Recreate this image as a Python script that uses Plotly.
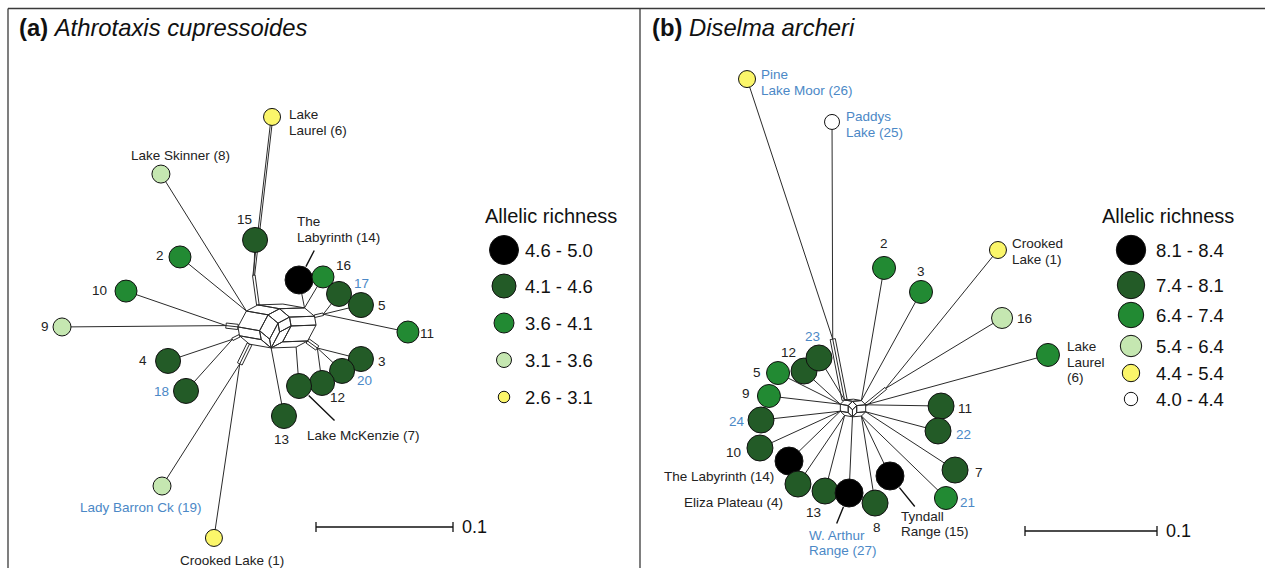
import numpy as np
import plotly.graph_objects as go

FIG_W, FIG_H = 1265, 568
FONT = "Liberation Sans, Arial, Helvetica, sans-serif"
INK = "#222222"
BLUE = "#4b88c6"
LINE = "#2a2a2a"

# ---------------- (a) Athrotaxis cupressoides ----------------
# split-network tip coordinates (genetic distance units, network centre at 0,0)
a_sites = ["Lake Laurel (6)", "Lake Skinner (8)", "15", "2", "10", "9", "4", "18",
           "Lady Barron Ck (19)", "Crooked Lake (1)", "13", "3", "20", "12",
           "Lake McKenzie (7)", "11", "The Labyrinth (14)", "16", "17", "5"]
a_x = [-0.0080, -0.0891, -0.0204, -0.0752, -0.1146, -0.1613, -0.0839, -0.0708,
       -0.0883, -0.0504, 0.0007, 0.0569, 0.0431, 0.0285,
       0.0117, 0.0912, 0.0117, 0.0292, 0.0409, 0.0569]
a_y = [0.1526, 0.1109, 0.0628, 0.0504, 0.0255, -0.0007, -0.0255, -0.0474,
       -0.1168, -0.1547, -0.0657, -0.0241, -0.0328, -0.0416,
       -0.0438, -0.0044, 0.0336, 0.0358, 0.0234, 0.0153]
a_richness = ["2.6 - 3.1", "3.1 - 3.6", "4.1 - 4.6", "3.6 - 4.1", "3.6 - 4.1", "3.1 - 3.6",
              "4.1 - 4.6", "4.1 - 4.6", "3.1 - 3.6", "2.6 - 3.1", "4.1 - 4.6", "4.1 - 4.6",
              "4.1 - 4.6", "4.1 - 4.6", "4.1 - 4.6", "3.6 - 4.1", "4.6 - 5.0", "3.6 - 4.1",
              "4.1 - 4.6", "4.1 - 4.6"]
a_bins = ["4.6 - 5.0", "4.1 - 4.6", "3.6 - 4.1", "3.1 - 3.6", "2.6 - 3.1"]
a_blue_sites = {"17", "18", "20", "Lady Barron Ck (19)"}

# ---------------- (b) Diselma archeri ----------------
b_sites = ["Pine Lake Moor (26)", "Paddys Lake (25)", "2", "3", "Crooked Lake (1)", "16",
           "Lake Laurel (6)", "11", "22", "7", "21", "Tyndall Range (15)", "13",
           "W. Arthur Range (27)", "8", "10", "The Labyrinth (14)", "Eliza Plateau (4)",
           "24", "9", "5", "12", "23"]
b_x = [-0.0818, -0.0174, 0.0220, 0.0500, 0.1083, 0.1114, 0.1462, 0.0652, 0.0629, 0.0758,
       0.0689, 0.0265, -0.0227, -0.0045, 0.0152, -0.0720, -0.0500, -0.0432, -0.0712,
       -0.0652, -0.0583, -0.0386, -0.0273]
b_y = [0.2492, 0.2167, 0.1061, 0.0879, 0.1197, 0.0682, 0.0402, 0.0015, -0.0174, -0.0470,
       -0.0682, -0.0515, -0.0629, -0.0644, -0.0720, -0.0303, -0.0402, -0.0576, -0.0091,
       0.0091, 0.0265, 0.0280, 0.0379]
b_richness = ["4.4 - 5.4", "4.0 - 4.4", "6.4 - 7.4", "6.4 - 7.4", "4.4 - 5.4", "5.4 - 6.4",
              "6.4 - 7.4", "7.4 - 8.1", "7.4 - 8.1", "7.4 - 8.1", "6.4 - 7.4", "8.1 - 8.4",
              "7.4 - 8.1", "8.1 - 8.4", "7.4 - 8.1", "7.4 - 8.1", "8.1 - 8.4", "7.4 - 8.1",
              "7.4 - 8.1", "6.4 - 7.4", "6.4 - 7.4", "7.4 - 8.1", "7.4 - 8.1"]
b_bins = ["8.1 - 8.4", "7.4 - 8.1", "6.4 - 7.4", "5.4 - 6.4", "4.4 - 5.4", "4.0 - 4.4"]
b_blue_sites = {"Pine Lake Moor (26)", "Paddys Lake (25)", "23", "24", "22", "21",
                "W. Arthur Range (27)"}

SCALE_BAR_LENGTH = 0.1

# ---------------- styling ----------------
BIN_FILL = ["#000000", "#235b27", "#228a33", "#c5e7b1", "#fbf66a", "#ffffff"]

PANELS = {
    "a": dict(xref="x", yref="y", px0=0, px1=640, cx=283, cy=326, ppu=1370,
              web_at=(277, 326),
              # short splits forming the central web: (direction deg, length px)
              web=[(2, 25), (28, 13), (62, 18), (100, 9), (140, 13), (170, 22)],
              node_d=[28, 25, 22, 18, 17],
              legend=dict(title_x=551, title_y=216, mx=504, tx=523,
                          rows=[250, 286, 323, 360, 397], d=[29, 24, 20, 15, 11.5]),
              title=(17, 27, "<b>(a)</b> <i>Athrotaxis cupressoides</i>"),
              bar=(316, 527)),
    "b": dict(xref="x2", yref="y2", px0=640, px1=1265, cx=855, cy=408, ppu=1320,
              web_at=(853, 408),
              web=[(5, 9), (45, 6), (90, 7), (135, 6), (170, 8)],
              node_d=[28, 26, 23, 21, 17, 15],
              legend=dict(title_x=1168, title_y=216, mx=1131, tx=1154,
                          rows=[250, 285, 315, 346, 373, 399],
                          d=[29.4, 27.4, 25.4, 21.4, 17.4, 13.4]),
              title=(650, 27, "<b>(b)</b> <i>Diselma archeri</i>"),
              bar=(1025, 531)),
}

# long splits drawn as bands of parallel edges (tips, band length px, number of lines)
a_bands = [(("Lady Barron Ck (19)", "Crooked Lake (1)"), 22, 3),
           (("Lake Laurel (6)", "15"), 30, 2),
           (("4", "18"), 8, 2),
           (("10", "9"), 12, 3),
           (("3", "20", "12"), 12, 3),
           (("5", "17", "11"), 9, 2)]
b_bands = [(("Pine Lake Moor (26)", "Paddys Lake (25)"), 62, 3),
           (("Crooked Lake (1)", "16"), 26, 2)]
a_double = {"Lake Laurel (6)"}
b_double = set()
BAND_GAP = 2.6      # px between parallel edges of a band
DOUBLE_GAP = 1.7    # px between the two edges of a doubled pendant edge

# label placement relative to the node centre, px: (anchor, dx, [dy per line])
a_labels = {
    "Crooked Lake (1)": ("c", 18, [23]), "2": ("c", -20, [-1]), "3": ("c", 21, [2]),
    "4": ("c", -25, [0]), "5": ("c", 21, [0]), "Lake Laurel (6)": ("l", 15, [-2, 14]),
    "Lake McKenzie (7)": ("l", 6, [49]), "Lake Skinner (8)": ("c", 20, [-19]),
    "9": ("c", -17, [0]), "10": ("c", -27, [-1]), "11": ("c", 19, [1]), "12": ("c", 15, [15]),
    "13": ("c", -2, [23]), "The Labyrinth (14)": ("l", -4, [-58, -42]),
    "15": ("c", -11, [-20]), "16": ("c", 20, [-11]), "17": ("c", 22, [-10]),
    "18": ("c", -25, [1]), "Lady Barron Ck (19)": ("c", -21, [21]), "20": ("c", 22, [10]),
}
a_lines = {"Lake Laurel (6)": ["Lake", "Laurel (6)"],
           "The Labyrinth (14)": ["The", "Labyrinth (14)"]}
a_leaders = {"The Labyrinth (14)": (16, -31), "Lake McKenzie (7)": (37, 36)}

b_labels = {
    "Pine Lake Moor (26)": ("l", 12, [-5, 11]), "Paddys Lake (25)": ("l", 12, [-5, 11]),
    "2": ("c", 0, [-24]), "3": ("c", 0, [-20]), "Crooked Lake (1)": ("l", 12, [-7, 9]),
    "16": ("c", 22, [1]), "Lake Laurel (6)": ("l", 17, [-8, 7.5, 23]), "11": ("c", 24, [2]),
    "22": ("c", 25, [4]), "7": ("c", 24, [2]), "21": ("c", 22, [4]),
    "Tyndall Range (15)": ("l", 9, [41, 56]), "8": ("c", 2, [24]), "13": ("c", -12, [21]),
    "W. Arthur Range (27)": ("l", -42, [42, 57]), "10": ("c", -26, [4]),
    "The Labyrinth (14)": ("r", -13, [15]), "Eliza Plateau (4)": ("r", -13, [18]),
    "24": ("c", -24, [1]), "9": ("c", -23, [-2]), "5": ("c", -21, [-1]),
    "12": ("c", -16, [-19]), "23": ("c", -6, [-21]),
}
b_lines = {"Pine Lake Moor (26)": ["Pine", "Lake Moor (26)"],
           "Paddys Lake (25)": ["Paddys", "Lake (25)"],
           "Crooked Lake (1)": ["Crooked", "Lake (1)"],
           "Lake Laurel (6)": ["Lake", "Laurel", "(6)"],
           "Tyndall Range (15)": ["Tyndall", "Range (15)"],
           "W. Arthur Range (27)": ["W. Arthur", "Range (27)"]}
b_leaders = {"Tyndall Range (15)": (26, 32), "W. Arthur Range (27)": (-13, 32)}

LABEL_SIZE = 13.5


def zonotope(vecs):
    """Rhombic tiling of the zonotope spanned by vectors sorted by angle."""
    m = len(vecs)
    order = list(range(m))
    target = list(reversed(range(m)))
    tiles = []
    while order != target:
        for p in range(m - 1):
            a, b = order[p], order[p + 1]
            if a < b:
                base = np.sum([vecs[k] for k in order[:p]], axis=0) if p else np.zeros(2)
                tiles.append((base, vecs[a], vecs[b]))
                order[p], order[p + 1] = b, a
    boundary = [np.zeros(2)]
    for k in range(m):
        boundary.append(boundary[-1] + vecs[k])
    back = [np.zeros(2)]
    for k in reversed(range(m)):
        back.append(back[-1] + vecs[k])
    return tiles, boundary + back[1:-1]


def network_lines(xs, ys, sites, geo, bands, doubles):
    """Central split web, bands for long splits and pendant edges to every site."""
    ppu = geo["ppu"]
    vecs = [np.array([np.cos(np.radians(a)), np.sin(np.radians(a))]) * L / ppu
            for a, L in geo["web"]]
    tiles, verts = zonotope(vecs)
    centre = np.array([(geo["web_at"][0] - geo["cx"]) / ppu,
                       -(geo["web_at"][1] - geo["cy"]) / ppu])
    shift = centre - np.sum(vecs, axis=0) / 2
    lx, ly = [], []

    def seg(p, q):
        lx.extend([p[0], q[0], None])
        ly.extend([p[1], q[1], None])

    for base, va, vb in tiles:
        p = base + shift
        seg(p, p + va)
        seg(p + va, p + va + vb)
        seg(p + va + vb, p + vb)
        seg(p + vb, p)
    verts = [v + shift for v in verts]

    tips = [np.array([x, y]) for x, y in zip(xs, ys)]
    start = {i: min(verts, key=lambda v: np.linalg.norm(v - tips[i])) for i in range(len(tips))}
    sp = BAND_GAP / ppu
    for group, length, n in bands:
        idx = [sites.index(g) for g in group]
        v = np.mean([(tips[i] - centre) / np.linalg.norm(tips[i] - centre) for i in idx], axis=0)
        v = v / np.linalg.norm(v)
        base = max(verts, key=lambda w: np.dot(w - centre, v))
        end = base + length / ppu * v
        perp = np.array([-v[1], v[0]])
        offs = [(m - (n - 1) / 2) * sp for m in range(n)]
        for o in offs:
            seg(base + o * perp, end + o * perp)
        seg(base + offs[0] * perp, base + offs[-1] * perp)
        seg(end + offs[0] * perp, end + offs[-1] * perp)
        for i in idx:
            start[i] = end

    half = DOUBLE_GAP / 2 / ppu
    for i, q in enumerate(tips):
        p = np.asarray(start[i])
        if sites[i] in doubles:
            d = (q - p) / np.linalg.norm(q - p)
            perp = np.array([-d[1], d[0]])
            for o in (-half, half):
                seg(p + o * perp, q + o * perp)
        else:
            seg(p, q)
    return lx, ly


fig = go.Figure()

panel_data = {
    "a": (a_sites, a_x, a_y, a_richness, a_bins, a_blue_sites, a_bands, a_double,
          a_labels, a_lines, a_leaders),
    "b": (b_sites, b_x, b_y, b_richness, b_bins, b_blue_sites, b_bands, b_double,
          b_labels, b_lines, b_leaders),
}

annotations = []
for key, (sites, xs, ys, rich, bins, blue, bands, doubles, labels, lines,
          leaders) in panel_data.items():
    geo = PANELS[key]
    xr, yr = geo["xref"], geo["yref"]
    ppu = geo["ppu"]

    # edges and web
    lx, ly = network_lines(xs, ys, sites, geo, bands, doubles)
    fig.add_trace(go.Scatter(x=lx, y=ly, mode="lines", xaxis=xr, yaxis=yr,
                             line=dict(color=LINE, width=1), hoverinfo="skip",
                             showlegend=False))

    # population nodes
    cls = [bins.index(r) for r in rich]
    fig.add_trace(go.Scatter(
        x=xs, y=ys, mode="markers", xaxis=xr, yaxis=yr, showlegend=False,
        text=sites, hoverinfo="text",
        marker=dict(size=[geo["node_d"][c] for c in cls],
                    color=[BIN_FILL[c] for c in cls],
                    line=dict(color="#111111", width=1), opacity=1)))

    # site labels and leader lines
    for s, x, y, c in zip(sites, xs, ys, cls):
        anchor, dx, dys = labels[s]
        col = BLUE if s in blue else INK
        font = dict(family=FONT, size=LABEL_SIZE, color=col)
        for txt, dy in zip(lines.get(s, [s]), dys):
            annotations.append(dict(x=x, y=y, xref=xr, yref=yr, text=txt, showarrow=False,
                                    xshift=dx, yshift=-dy,
                                    xanchor={"c": "center", "l": "left", "r": "right"}[anchor],
                                    yanchor="middle", font=font))
        if s in leaders:
            ax, ay = leaders[s]
            annotations.append(dict(x=x, y=y, xref=xr, yref=yr, text="", showarrow=True,
                                    ax=ax, ay=ay, arrowhead=0, arrowwidth=1.4,
                                    arrowcolor="#111111",
                                    standoff=geo["node_d"][c] / 2 + 1))

    # scale bar (0.1 distance units)
    bx = (geo["bar"][0] - geo["cx"]) / ppu
    by = -(geo["bar"][1] - geo["cy"]) / ppu
    tick = 5 / ppu
    ex = bx + SCALE_BAR_LENGTH
    fig.add_trace(go.Scatter(x=[bx, ex, None, bx, bx, None, ex, ex],
                             y=[by, by, None, by - tick, by + tick, None, by - tick, by + tick],
                             mode="lines", xaxis=xr, yaxis=yr, hoverinfo="skip",
                             line=dict(color="#111111", width=1.3), showlegend=False))
    annotations.append(dict(x=ex, y=by, xref=xr, yref=yr, text=f"{SCALE_BAR_LENGTH:g}",
                            showarrow=False, xanchor="left", yanchor="middle", xshift=7,
                            font=dict(family=FONT, size=18, color="#111111")))

    # allelic richness key
    leg = geo["legend"]
    fig.add_trace(go.Scatter(
        x=[leg["mx"]] * len(bins), y=leg["rows"], mode="markers", xaxis="x3", yaxis="y3",
        hoverinfo="skip", showlegend=False,
        marker=dict(size=leg["d"], color=BIN_FILL[:len(bins)], opacity=1,
                    line=dict(color="#111111", width=1))))
    annotations.append(dict(x=leg["title_x"], y=leg["title_y"], xref="x3", yref="y3",
                            text="Allelic richness", showarrow=False,
                            font=dict(family=FONT, size=20, color="#111111")))
    for b, yy in zip(bins, leg["rows"]):
        annotations.append(dict(x=leg["tx"], y=yy, xref="x3", yref="y3", text=b,
                                showarrow=False, xanchor="left", yanchor="middle",
                                font=dict(family=FONT, size=18.5, color="#111111")))

    # panel heading
    tx, ty, ttxt = geo["title"]
    annotations.append(dict(x=tx, y=ty, xref="x3", yref="y3", text=ttxt, showarrow=False,
                            xanchor="left", yanchor="middle",
                            font=dict(family=FONT, size=23.8, color="#111111")))


def panel_axes(geo):
    ppu = geo["ppu"]
    xa = dict(domain=[geo["px0"] / FIG_W, geo["px1"] / FIG_W],
              range=[(geo["px0"] - geo["cx"]) / ppu, (geo["px1"] - geo["cx"]) / ppu],
              visible=False, fixedrange=True)
    ya = dict(domain=[0, 1], range=[-(FIG_H - geo["cy"]) / ppu, geo["cy"] / ppu],
              visible=False, fixedrange=True)
    return xa, ya


xa1, ya1 = panel_axes(PANELS["a"])
xa2, ya2 = panel_axes(PANELS["b"])
ya2["anchor"] = "x2"
xa2["anchor"] = "y2"

# panel frames
frame = dict(type="line", xref="x3", yref="y3", line=dict(color="#3a3a3a", width=1.3))
shapes = [
    dict(frame, x0=8, x1=8, y0=8.5, y1=FIG_H),
    dict(frame, x0=8, x1=FIG_W, y0=8.5, y1=8.5),
    dict(frame, x0=640, x1=640, y0=8.5, y1=FIG_H),
]

fig.update_layout(
    width=FIG_W, height=FIG_H, margin=dict(l=0, r=0, t=0, b=0),
    paper_bgcolor="white", plot_bgcolor="rgba(0,0,0,0)",
    xaxis=xa1, yaxis=ya1, xaxis2=xa2, yaxis2=ya2,
    xaxis3=dict(domain=[0, 1], range=[0, FIG_W], visible=False, fixedrange=True, anchor="y3"),
    yaxis3=dict(domain=[0, 1], range=[FIG_H, 0], visible=False, fixedrange=True, anchor="x3"),
    annotations=annotations, shapes=shapes, showlegend=False,
    font=dict(family=FONT, color=INK),
)

fig.write_html("out.html", config={"displayModeBar": False})
